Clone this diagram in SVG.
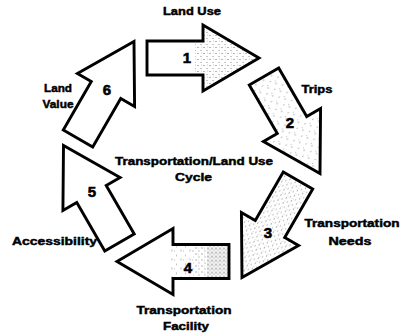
<svg xmlns="http://www.w3.org/2000/svg" xmlns:xlink="http://www.w3.org/1999/xlink" width="401" height="335" viewBox="0 0 401 335">
<style>
.arrow{fill:#fff;stroke:none}
.outline{fill:none;stroke:#000;stroke-width:2.9;stroke-linejoin:miter}
.lbl{font-family:"Liberation Sans",Arial,sans-serif;font-weight:bold;font-size:11px;fill:#000;stroke:#000;stroke-width:0.45;text-anchor:middle}
.num{font-family:"Liberation Sans",Arial,sans-serif;font-weight:bold;font-size:15px;fill:#000;stroke:#000;stroke-width:0.6;text-anchor:middle}
</style>
<defs>
<path id="arr" d="M-56,-17 L0,-17 L0,-33 L56,0 L0,33 L0,17 L-56,17 Z"/>
<clipPath id="clipArr"><use xlink:href="#arr"/></clipPath>
<pattern id="dotsL" width="9" height="9" patternUnits="userSpaceOnUse">
<circle cx="1" cy="2" r="0.55" fill="#555"/>
<circle cx="5.5" cy="6" r="0.5" fill="#666"/>
<circle cx="7.5" cy="1.5" r="0.45" fill="#777"/>
</pattern>
<pattern id="dotsM" width="6" height="6" patternUnits="userSpaceOnUse">
<circle cx="1" cy="1.5" r="0.55" fill="#555"/>
<circle cx="4" cy="4.5" r="0.5" fill="#666"/>
<circle cx="4.5" cy="1" r="0.4" fill="#888"/>
</pattern>
<pattern id="dotsD" width="4" height="4" patternUnits="userSpaceOnUse">
<circle cx="1" cy="1" r="0.7" fill="#555"/>
<circle cx="3" cy="3" r="0.6" fill="#666"/>
<circle cx="3" cy="0.8" r="0.45" fill="#888"/>
<circle cx="1" cy="3.2" r="0.4" fill="#999"/>
</pattern>
</defs>
<rect width="401" height="335" fill="#fff"/>

<g id="node1">
<g transform="translate(203,58)">
<use xlink:href="#arr" class="arrow"/>
<rect x="-8" y="-34" width="66" height="68" fill="url(#dotsM)" clip-path="url(#clipArr)"/>
<use xlink:href="#arr" class="outline"/>
</g>
<text class="num" x="187" y="63">1</text>
<text class="lbl" x="192" y="15" textLength="58" lengthAdjust="spacingAndGlyphs">Land Use</text>
</g>

<g id="node2">
<g transform="translate(292,125) rotate(60)">
<use xlink:href="#arr" class="arrow"/>
<rect x="-56" y="-34" width="112" height="68" fill="url(#dotsL)" clip-path="url(#clipArr)"/>
<use xlink:href="#arr" class="outline"/>
</g>
<text class="num" x="290" y="128">2</text>
<text class="lbl" x="317" y="93" textLength="31" lengthAdjust="spacingAndGlyphs">Trips</text>
</g>

<g id="node3">
<g transform="translate(270,229) rotate(120)">
<use xlink:href="#arr" class="arrow"/>
<rect x="-56" y="-34" width="112" height="68" fill="url(#dotsM)" clip-path="url(#clipArr)"/>
<use xlink:href="#arr" class="outline"/>
</g>
<text class="num" x="268" y="238">3</text>
<text class="lbl" x="352" y="227" textLength="95" lengthAdjust="spacingAndGlyphs">Transportation</text>
<text class="lbl" x="350" y="245" textLength="43" lengthAdjust="spacingAndGlyphs">Needs</text>
</g>

<g id="node4">
<g transform="translate(173,261.5) rotate(180)">
<use xlink:href="#arr" class="arrow"/>
<rect x="-56" y="-34" width="22" height="68" fill="url(#dotsD)" clip-path="url(#clipArr)"/>
<rect x="-34" y="-34" width="14" height="68" fill="url(#dotsM)" clip-path="url(#clipArr)"/>
<rect x="-20" y="-34" width="24" height="68" fill="url(#dotsL)" clip-path="url(#clipArr)"/>
<use xlink:href="#arr" class="outline"/>
</g>
<text class="num" x="188" y="273">4</text>
<text class="lbl" x="184" y="314" textLength="95" lengthAdjust="spacingAndGlyphs">Transportation</text>
<text class="lbl" x="186" y="330" textLength="46" lengthAdjust="spacingAndGlyphs">Facility</text>
</g>

<g id="node5">
<g transform="translate(91.5,194) rotate(240)">
<use xlink:href="#arr" class="arrow"/>
<use xlink:href="#arr" class="outline"/>
</g>
<text class="num" x="92" y="197">5</text>
<text class="lbl" x="54.5" y="245" textLength="85" lengthAdjust="spacingAndGlyphs">Accessibility</text>
</g>

<g id="node6">
<g transform="translate(106,90) rotate(300)">
<use xlink:href="#arr" class="arrow"/>
<use xlink:href="#arr" class="outline"/>
</g>
<text class="num" x="107" y="95">6</text>
<text class="lbl" x="58" y="92" textLength="28" lengthAdjust="spacingAndGlyphs">Land</text>
<text class="lbl" x="58" y="108" textLength="31" lengthAdjust="spacingAndGlyphs">Value</text>
</g>

<g id="title">
<text class="lbl" x="194" y="165" textLength="158" lengthAdjust="spacingAndGlyphs">Transportation/Land Use</text>
<text class="lbl" x="193.5" y="181" textLength="37" lengthAdjust="spacingAndGlyphs">Cycle</text>
</g>
</svg>
